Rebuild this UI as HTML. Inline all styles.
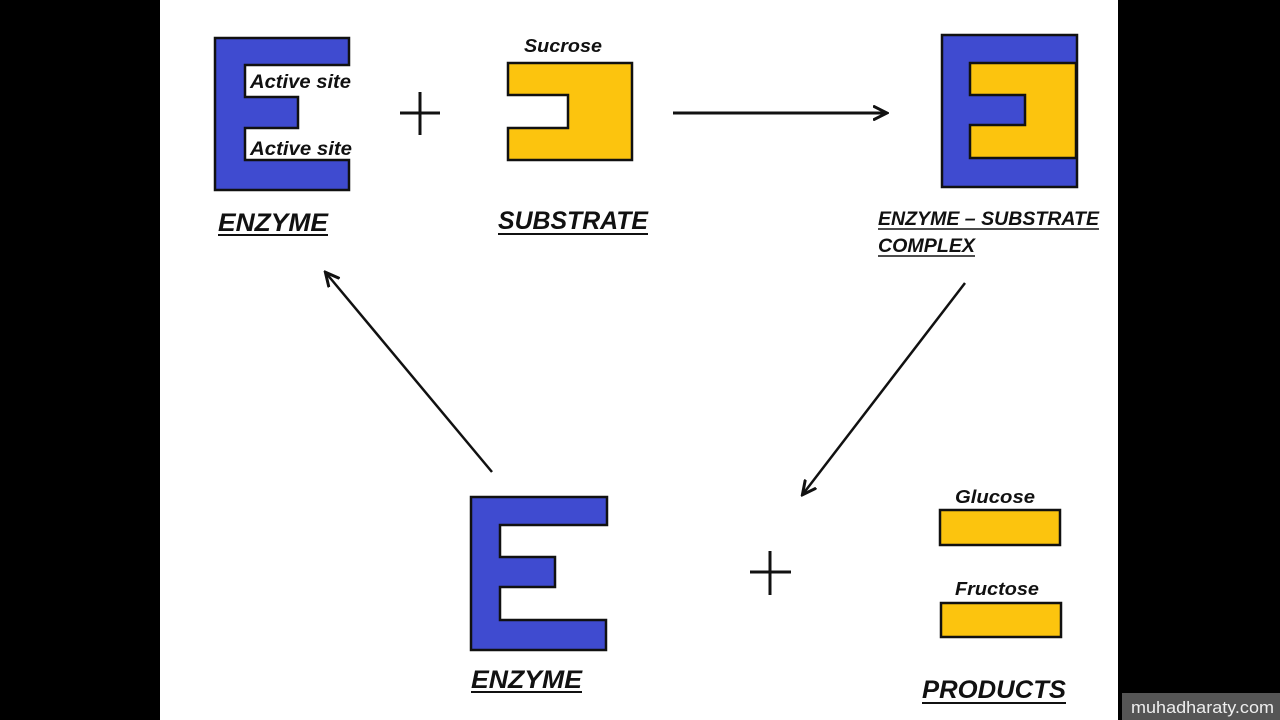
<!DOCTYPE html>
<html><head><meta charset="utf-8"><style>
html,body{margin:0;padding:0;width:1280px;height:720px;overflow:hidden;background:#000}
svg{display:block}
text{font-family:"Liberation Sans",sans-serif;font-weight:bold;font-style:italic;fill:#111}
text.wm{font-style:normal;font-weight:normal;fill:#eee}
</style></head><body>
<svg width="1280" height="720" viewBox="0 0 1280 720" xmlns="http://www.w3.org/2000/svg">
<defs>
<marker id="ah2" markerWidth="16" markerHeight="16" refX="13" refY="8" orient="auto" markerUnits="userSpaceOnUse"><path d="M0,1 L14,8 L0,15" fill="none" stroke="#111" stroke-width="3"/></marker></defs>
<rect x="160" y="0" width="958" height="720" fill="#fff"/>
<!-- top enzyme -->
<polygon points="215,38 349,38 349,65 245,65 245,97 298,97 298,128 245,128 245,160 349,160 349,190 215,190" fill="#3f4bd0" stroke="#111" stroke-width="2.5"/>
<text x="250" y="88" font-size="19" textLength="101" lengthAdjust="spacingAndGlyphs">Active site</text>
<text x="250" y="155" font-size="19" textLength="102" lengthAdjust="spacingAndGlyphs">Active site</text>
<text x="218" y="231" font-size="25" textLength="110" lengthAdjust="spacingAndGlyphs">ENZYME</text>
<line x1="218" y1="235" x2="328" y2="235" stroke="#111" stroke-width="2"/>
<path d="M400,113 H440 M420,92 V135" stroke="#111" stroke-width="3"/>
<!-- substrate -->
<text x="524" y="52" font-size="18" textLength="78" lengthAdjust="spacingAndGlyphs">Sucrose</text>
<polygon points="508,63 632,63 632,160 508,160 508,128 568,128 568,95 508,95" fill="#fcc40e" stroke="#111" stroke-width="2.5"/>
<text x="498" y="229" font-size="25" textLength="150" lengthAdjust="spacingAndGlyphs">SUBSTRATE</text>
<line x1="498" y1="234" x2="648" y2="234" stroke="#111" stroke-width="2"/>
<line x1="673" y1="113" x2="886" y2="113" stroke="#111" stroke-width="3" marker-end="url(#ah2)"/>
<!-- complex -->
<rect x="942" y="35" width="135" height="152" fill="#3f4bd0" stroke="#111" stroke-width="2.5"/>
<polygon points="970,63 1076,63 1076,158 970,158 970,125 1025,125 1025,95 970,95" fill="#fcc40e" stroke="#111" stroke-width="2.5"/>
<text x="878" y="225" font-size="19" textLength="221" lengthAdjust="spacingAndGlyphs">ENZYME – SUBSTRATE</text>
<line x1="878" y1="229" x2="1099" y2="229" stroke="#111" stroke-width="1.5"/>
<text x="878" y="252" font-size="19" textLength="97" lengthAdjust="spacingAndGlyphs">COMPLEX</text>
<line x1="878" y1="256" x2="975" y2="256" stroke="#111" stroke-width="1.5"/>
<line x1="965" y1="283" x2="803" y2="494" stroke="#111" stroke-width="2.5" marker-end="url(#ah2)"/>
<line x1="492" y1="472" x2="326" y2="273" stroke="#111" stroke-width="2.5" marker-end="url(#ah2)"/>
<!-- bottom enzyme -->
<polygon points="471,497 607,497 607,525 500,525 500,557 555,557 555,587 500,587 500,620 606,620 606,650 471,650" fill="#3f4bd0" stroke="#111" stroke-width="2.5"/>
<text x="471" y="688" font-size="25" textLength="111" lengthAdjust="spacingAndGlyphs">ENZYME</text>
<line x1="471" y1="692" x2="582" y2="692" stroke="#111" stroke-width="2"/>
<path d="M750,572 H791 M770,551 V595" stroke="#111" stroke-width="3"/>
<!-- products -->
<text x="955" y="503" font-size="18" textLength="80" lengthAdjust="spacingAndGlyphs">Glucose</text>
<rect x="940" y="510" width="120" height="35" fill="#fcc40e" stroke="#111" stroke-width="2.5"/>
<text x="955" y="595" font-size="18" textLength="84" lengthAdjust="spacingAndGlyphs">Fructose</text>
<rect x="941" y="603" width="120" height="34" fill="#fcc40e" stroke="#111" stroke-width="2.5"/>
<text x="922" y="698" font-size="25" textLength="144" lengthAdjust="spacingAndGlyphs">PRODUCTS</text>
<line x1="922" y1="703" x2="1066" y2="703" stroke="#111" stroke-width="2"/>
<!-- watermark -->
<rect x="1122" y="693" width="158" height="27" fill="#555"/>
<text class="wm" x="1131" y="713" font-size="17" textLength="143" lengthAdjust="spacingAndGlyphs">muhadharaty.com</text>
</svg>
</body></html>
